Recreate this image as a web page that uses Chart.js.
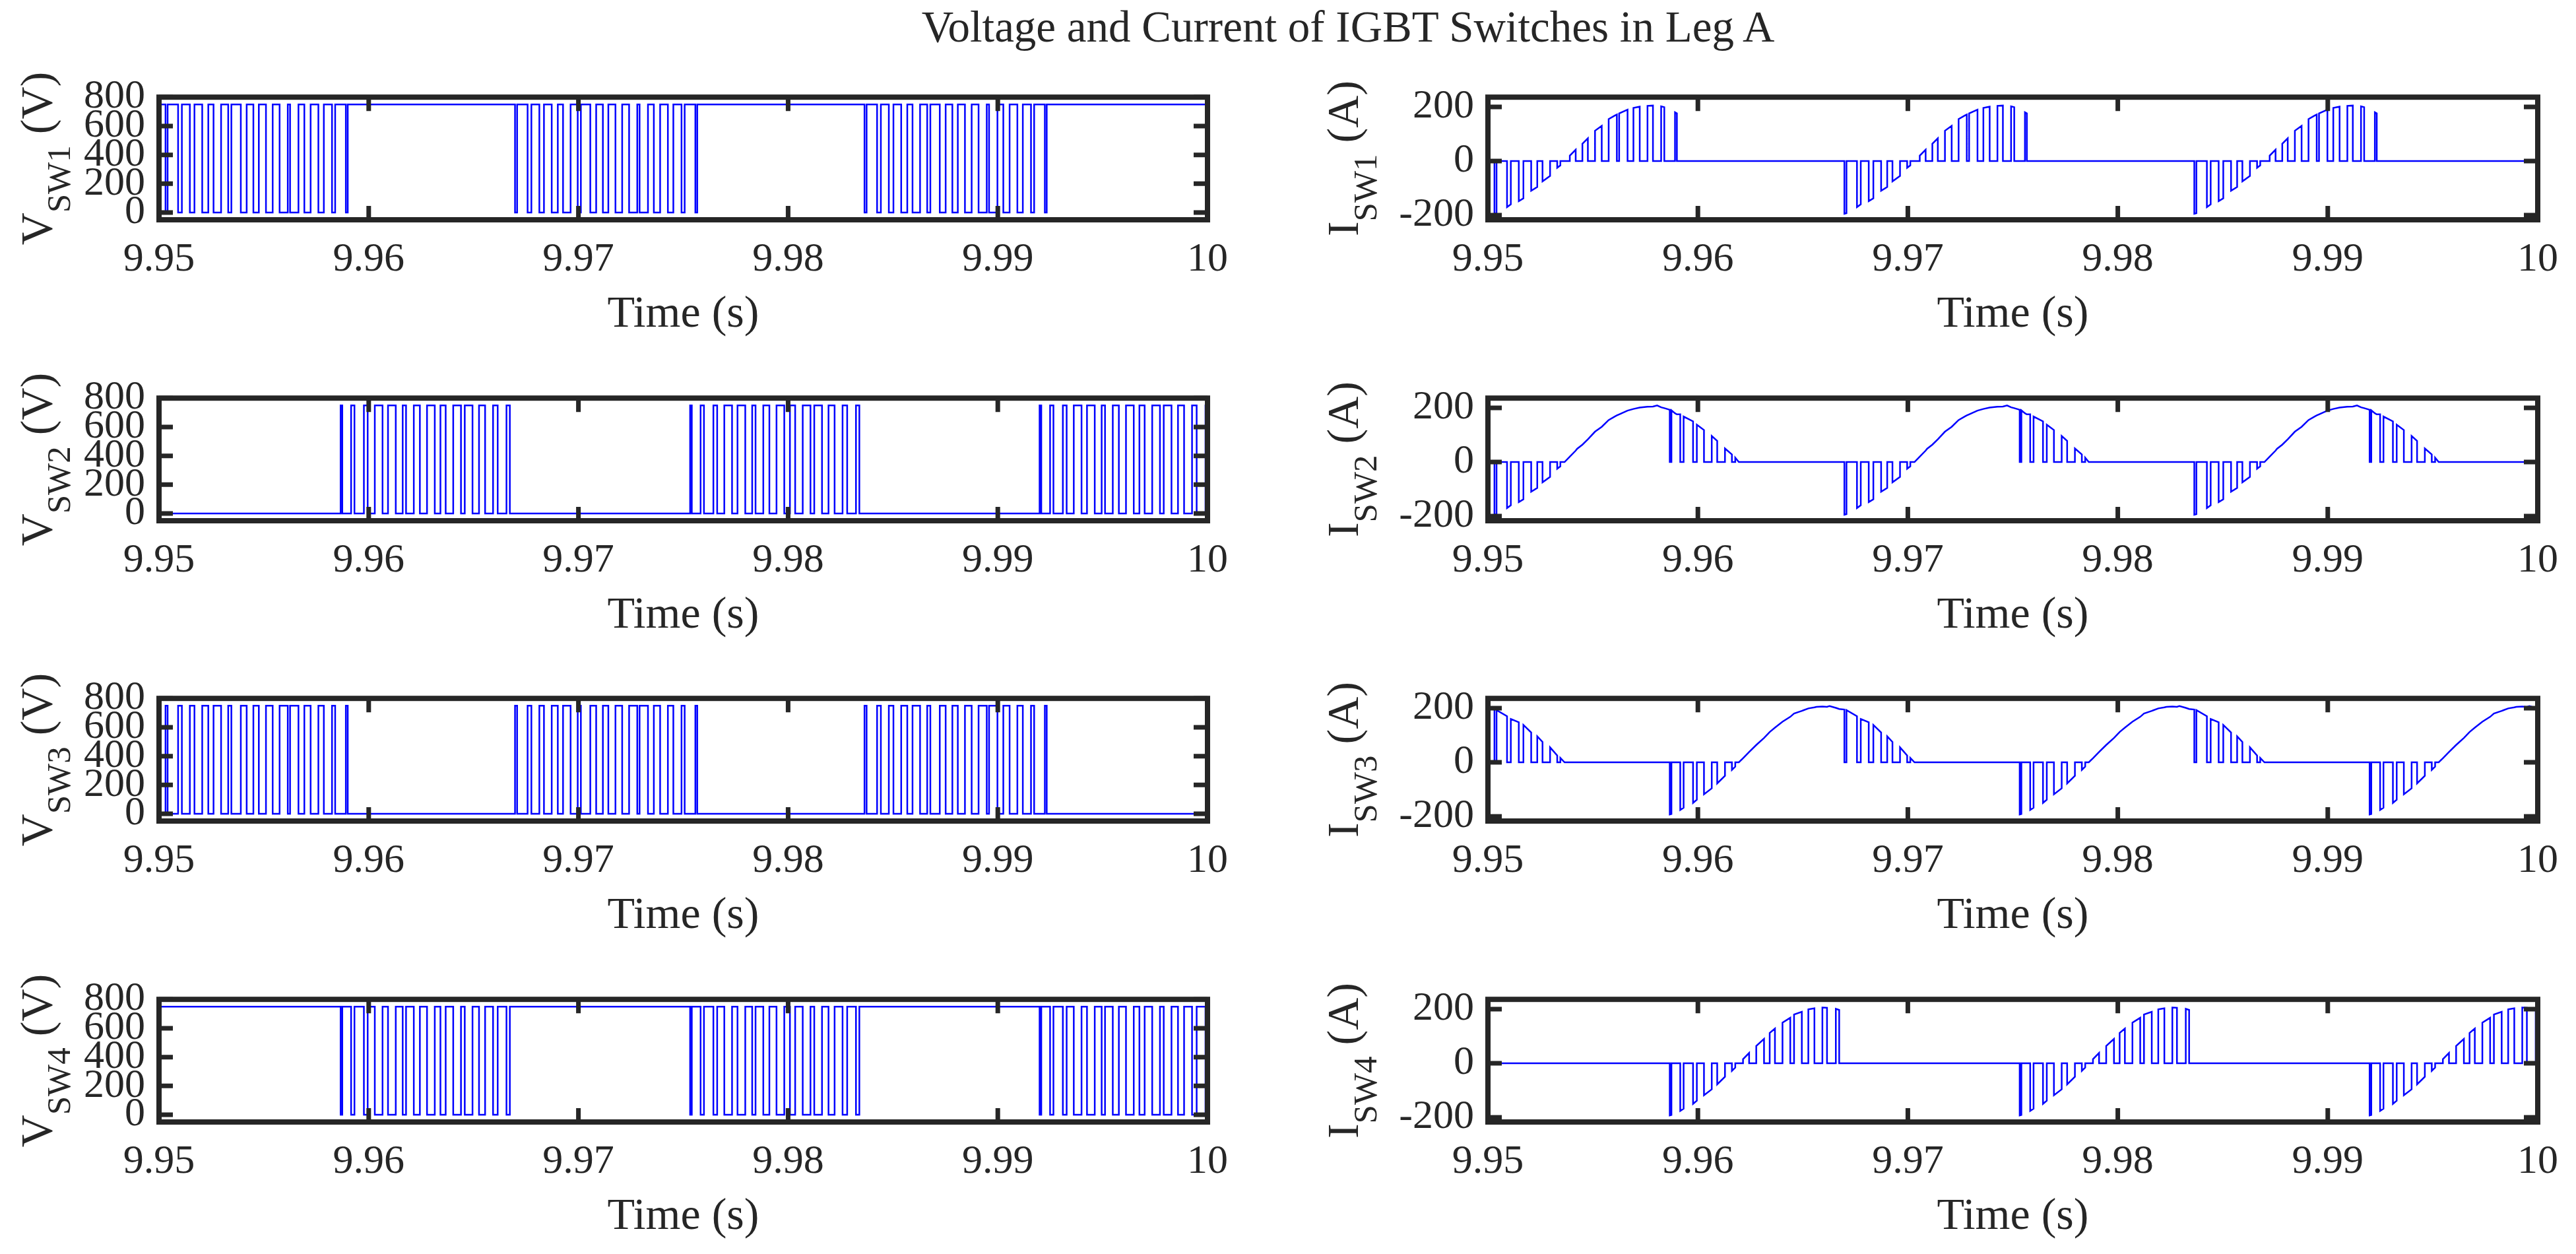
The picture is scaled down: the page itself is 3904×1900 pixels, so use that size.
<!DOCTYPE html>
<html>
<head>
<meta charset="utf-8">
<title>Voltage and Current of IGBT Switches in Leg A</title>
<script src="https://cdn.jsdelivr.net/npm/chart.js@4.4.1/dist/chart.umd.min.js"></script>
<style>
    html, body { margin: 0; padding: 0; background: #ffffff; }
    body { width: 3904px; height: 1900px; position: relative; overflow: hidden; }
    canvas { position: absolute; }
    #title {
        position: absolute; left: 1043px; top: 7px; width: 2000px;
        text-align: center; white-space: nowrap; color: #262626;
        font: 67px/67px "Liberation Serif", "Times New Roman", serif;
    }
</style>
</head>
<body>
<div id="title">Voltage and Current of IGBT Switches in Leg A</div>
<script>
// Time axis and tick labels
const xTicks = [9.95, 9.96, 9.97, 9.98, 9.99, 10];
const xTickLabels = ['9.95', '9.96', '9.97', '9.98', '9.99', '10'];
const voltTicks = [0, 200, 400, 600, 800];
const currTicks = [-200, 0, 200];

// Start of each 60 Hz cycle (the first one only feeds the left edge)
const cycleStarts = [9.933333, 9.95, 9.966667, 9.983333];

// Voltage across an off switch (V)
const blockVoltage = 750;

// SW1 conduction intervals (ms after cycle start) and leg current at their edges (A)
const sw1OnMs = [
    [0.31, 0.41], [0.91, 1.09], [1.47, 1.69], [2.06, 2.35], [2.60, 2.96],
    [3.30, 3.45], [3.90, 4.18], [4.50, 4.76], [5.10, 5.42], [5.75, 6.14],
    [6.25, 6.65], [6.93, 7.23], [7.60, 7.86], [8.25, 8.40], [8.91, 9.00]
];
const sw1OnAmps = [
    [-195, -193], [-170, -160], [-148, -138], [-110, -96], [-75, -55],
    [-25, -16], [20, 42], [64, 84], [112, 130], [155, 172],
    [176, 190], [196, 201], [204, 205], [202, 199], [180, 176]
];

// SW4 conduction intervals (ms after cycle start) and leg current at their edges (A)
const sw4OnMs = [
    [8.66, 8.74], [9.16, 9.32], [9.77, 9.95], [10.29, 10.66], [10.92, 11.29],
    [11.62, 11.78], [12.15, 12.44], [12.78, 13.15], [13.42, 13.67], [14.03, 14.40],
    [14.58, 14.95], [15.26, 15.55], [15.93, 16.15], [16.57, 16.73]
];
const sw4OnAmps = [
    [193, 191], [176, 168], [150, 138], [118, 96], [78, 50],
    [28, 16], [-15, -38], [-64, -90], [-112, -128], [-150, -168],
    [-180, -190], [-199, -203], [-206, -205], [-201, -197]
];

// Extra leg current readings on the smooth stretches (ms after cycle start, A)
const legCurveMs = [3.65, 4.25, 6.04, 8.06, 11.95, 15.02, 15.65, 16.27];
const legCurveAmps = [0, 49, 168, 209, 0, -192, -205, -208];

const axisColor = '#262626';
const serif = '"Liberation Serif", "Times New Roman", serif';

// 1. Merge switching edges and current readings into one time-ordered list
function buildEvents() {
    const events = [];
    cycleStarts.forEach(t0 => {
        sw1OnMs.forEach((p, k) => {
            events.push({ t: t0 + p[0] / 1000, i: sw1OnAmps[k][0], sw: 1, on: true });
            events.push({ t: t0 + p[1] / 1000, i: sw1OnAmps[k][1], sw: 1, on: false });
        });
        sw4OnMs.forEach((p, k) => {
            events.push({ t: t0 + p[0] / 1000, i: sw4OnAmps[k][0], sw: 4, on: true });
            events.push({ t: t0 + p[1] / 1000, i: sw4OnAmps[k][1], sw: 4, on: false });
        });
        legCurveMs.forEach((m, k) => {
            events.push({ t: t0 + m / 1000, i: legCurveAmps[k], sw: 0 });
        });
    });
    events.sort((a, b) => a.t - b.t);
    return events;
}

// 2. What each switch sees for a given state (SW2 = not SW4, SW3 = not SW1)
const signals = {
    vsw1: (s) => s.sw1 ? 0 : blockVoltage,
    vsw2: (s) => s.sw4 ? blockVoltage : 0,
    vsw3: (s) => s.sw1 ? blockVoltage : 0,
    vsw4: (s) => s.sw4 ? 0 : blockVoltage,
    isw1: (s, i) => s.sw1 ? i : 0,
    isw2: (s, i, pos) => (!s.sw4 && (s.sw1 || pos)) ? i : 0,
    isw3: (s, i, pos) => (!s.sw1 && (s.sw4 || !pos)) ? -i : 0,
    isw4: (s, i) => s.sw4 ? -i : 0
};

function buildSeries(fn, events) {
    const pts = [];
    const state = { sw1: false, sw4: false };
    for (let k = 0; k < events.length - 1; k++) {
        const a = events[k], b = events[k + 1];
        if (a.sw === 1) state.sw1 = a.on;
        if (a.sw === 4) state.sw4 = a.on;
        const pos = (a.i + b.i) / 2 > 0;
        pts.push({ x: a.t, y: fn(state, a.i, pos) });
        pts.push({ x: b.t, y: fn(state, b.i, pos) });
    }
    return pts;
}

// 3. Box, inward ticks, axis labels (MATLAB look)
const framePlugin = {
    id: 'frame',
    afterDraw(chart, args, opts) {
        const { ctx, chartArea: a, scales } = chart;
        ctx.save();
        ctx.strokeStyle = axisColor;
        ctx.lineCap = 'butt';
        ctx.lineWidth = 7;
        const tl = 21;
        xTicks.forEach(v => {
            const px = scales.x.getPixelForValue(v);
            ctx.beginPath();
            ctx.moveTo(px, a.bottom); ctx.lineTo(px, a.bottom - tl);
            ctx.moveTo(px, a.top); ctx.lineTo(px, a.top + tl);
            ctx.stroke();
        });
        scales.y.ticks.forEach(t => {
            const py = scales.y.getPixelForValue(t.value);
            ctx.beginPath();
            ctx.moveTo(a.left, py); ctx.lineTo(a.left + tl, py);
            ctx.moveTo(a.right, py); ctx.lineTo(a.right - tl, py);
            ctx.stroke();
        });
        ctx.lineWidth = 8;
        ctx.lineJoin = 'miter';
        ctx.strokeRect(a.left, a.top, a.right - a.left, a.bottom - a.top);

        // x label
        ctx.fillStyle = axisColor;
        ctx.font = '68px ' + serif;
        ctx.textAlign = 'center';
        ctx.textBaseline = 'alphabetic';
        ctx.fillText('Time (s)', (a.left + a.right) / 2, a.bottom + 162);

        // y label with subscript, rotated
        const mainFont = '68px ' + serif;
        const subFont = '51px ' + serif;
        ctx.font = mainFont;
        const w1 = ctx.measureText(opts.main).width;
        const w3 = ctx.measureText(opts.unit).width;
        ctx.font = subFont;
        const w2 = ctx.measureText(opts.sub).width;
        const len = w1 + w2 + w3;
        ctx.translate(opts.labelX, (a.top + a.bottom) / 2);
        ctx.rotate(-Math.PI / 2);
        ctx.textAlign = 'left';
        ctx.font = mainFont;
        ctx.fillText(opts.main, -len / 2, 0);
        ctx.font = subFont;
        ctx.fillText(opts.sub, -len / 2 + w1, 28);
        ctx.font = mainFont;
        ctx.fillText(opts.unit, -len / 2 + w1 + w2, 0);
        ctx.restore();
    }
};

// 4. Panel layout
const colLeft = [0, 1950];
const colWidth = [1900, 1954];
const boxLeft = [241, 2255];
const boxRight = [1830, 3846];
const boxTop = [129, 585, 1040, 1496];
const boxHeight = 204;
const padTop = 40;
const xAxisHeight = 185;
const labelX = [78, 2058];

const panels = [
    { key: 'vsw1', col: 0, row: 0, main: 'V', sub: 'SW1', unit: ' (V)', yMin: -50, yMax: 800, yTicks: voltTicks },
    { key: 'vsw2', col: 0, row: 1, main: 'V', sub: 'SW2', unit: ' (V)', yMin: -50, yMax: 800, yTicks: voltTicks },
    { key: 'vsw3', col: 0, row: 2, main: 'V', sub: 'SW3', unit: ' (V)', yMin: -50, yMax: 800, yTicks: voltTicks },
    { key: 'vsw4', col: 0, row: 3, main: 'V', sub: 'SW4', unit: ' (V)', yMin: -50, yMax: 800, yTicks: voltTicks },
    { key: 'isw1', col: 1, row: 0, main: 'I', sub: 'SW1', unit: ' (A)', yMin: -217, yMax: 236, yTicks: currTicks },
    { key: 'isw2', col: 1, row: 1, main: 'I', sub: 'SW2', unit: ' (A)', yMin: -217, yMax: 236, yTicks: currTicks },
    { key: 'isw3', col: 1, row: 2, main: 'I', sub: 'SW3', unit: ' (A)', yMin: -217, yMax: 236, yTicks: currTicks },
    { key: 'isw4', col: 1, row: 3, main: 'I', sub: 'SW4', unit: ' (A)', yMin: -217, yMax: 236, yTicks: currTicks }
];

// 5. Draw every panel
function drawPanels() {
    const events = buildEvents();
    const tickFont = { family: serif, size: 62 };

    panels.forEach(p => {
        const canvas = document.createElement('canvas');
        const h = padTop + boxHeight + xAxisHeight;
        canvas.width = colWidth[p.col];
        canvas.height = h;
        canvas.style.left = colLeft[p.col] + 'px';
        canvas.style.top = (boxTop[p.row] - padTop) + 'px';
        document.body.appendChild(canvas);

        new Chart(canvas.getContext('2d'), {
            type: 'line',
            data: {
                datasets: [{
                    data: buildSeries(signals[p.key], events),
                    borderColor: '#0000ff',
                    borderWidth: 2.5,
                    pointRadius: 0,
                    tension: 0,
                    fill: false
                }]
            },
            options: {
                responsive: false,
                animation: false,
                devicePixelRatio: 1,
                layout: {
                    padding: {
                        top: padTop, left: 0, bottom: 0,
                        right: colLeft[p.col] + colWidth[p.col] - boxRight[p.col]
                    }
                },
                plugins: {
                    legend: { display: false },
                    tooltip: { enabled: false },
                    frame: {
                        main: p.main, sub: p.sub, unit: p.unit,
                        labelX: labelX[p.col] - colLeft[p.col]
                    }
                },
                scales: {
                    x: {
                        type: 'linear',
                        min: 9.95,
                        max: 10,
                        grid: { display: false, drawTicks: false },
                        border: { display: false },
                        afterBuildTicks: s => { s.ticks = xTicks.map(v => ({ value: v })); },
                        afterFit: s => { s.height = xAxisHeight; },
                        ticks: {
                            font: tickFont, color: axisColor, padding: 24,
                            maxRotation: 0, autoSkip: false,
                            callback: (v, idx) => xTickLabels[idx]
                        }
                    },
                    y: {
                        min: p.yMin,
                        max: p.yMax,
                        grid: { display: false, drawTicks: false },
                        border: { display: false },
                        afterBuildTicks: s => { s.ticks = p.yTicks.map(v => ({ value: v })); },
                        afterFit: s => { s.width = boxLeft[p.col] - colLeft[p.col]; },
                        ticks: {
                            font: tickFont, color: axisColor, padding: 21,
                            autoSkip: false,
                            callback: v => String(v)
                        }
                    }
                }
            },
            plugins: [framePlugin]
        });
    });
}

document.addEventListener('DOMContentLoaded', drawPanels);
</script>
</body>
</html>
